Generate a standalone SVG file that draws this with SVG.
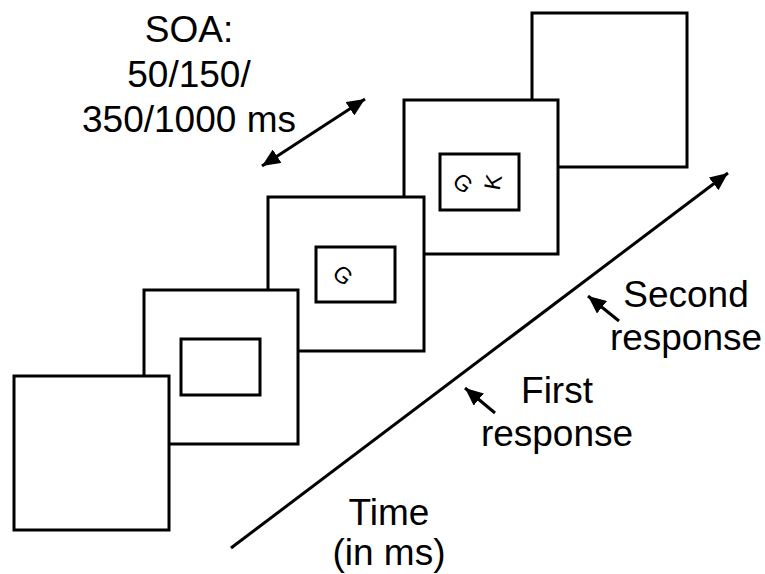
<svg xmlns="http://www.w3.org/2000/svg" width="765" height="574" viewBox="0 0 765 574">
<style>
.box{fill:#fff;stroke:#000;stroke-width:3}
.ln{fill:none;stroke:#000;stroke-width:3}
.t{font-family:"Liberation Sans",Arial,sans-serif;font-size:37px;fill:#000;text-anchor:middle}
.s{font-family:"Liberation Sans",Arial,sans-serif;font-size:23px;fill:#000;text-anchor:middle}
</style>
<defs>
<marker id="ah" markerUnits="userSpaceOnUse" markerWidth="20" markerHeight="16" refX="18" refY="8" orient="auto-start-reverse" viewBox="0 0 20 16">
<path d="M0,0 L18,8 L0,16 Z" fill="#000"/>
</marker>
</defs>
<rect width="765" height="574" fill="#fff"/>
<g id="screen5"><rect class="box" x="532" y="13" width="155" height="154"/></g>
<g id="screen4"><rect class="box" x="404" y="100" width="154" height="154"/>
<rect class="box" x="440" y="154" width="79" height="56"/>
<text class="s" transform="translate(463,183) rotate(40)" dy="8">G</text>
<text class="s" transform="translate(493,182) rotate(-80)" dy="8">K</text></g>
<g id="screen3"><rect class="box" x="268" y="197" width="156" height="154"/>
<rect class="box" x="316" y="247" width="79" height="55"/>
<text class="s" transform="translate(343,275) rotate(40)" dy="8">G</text></g>
<g id="screen2"><rect class="box" x="144" y="290" width="154" height="154"/>
<rect class="box" x="181" y="339" width="79" height="56"/></g>
<g id="screen1"><rect class="box" x="14" y="376" width="155" height="154"/></g>
<g id="connectors">
<line class="ln" x1="262" y1="166" x2="365" y2="99" marker-start="url(#ah)" marker-end="url(#ah)"/>
<line class="ln" x1="231" y1="548" x2="728" y2="173" marker-end="url(#ah)"/>
<line class="ln" x1="619" y1="321" x2="588" y2="296" marker-end="url(#ah)"/>
<line class="ln" x1="495" y1="413" x2="465" y2="388" marker-end="url(#ah)"/>
</g>
<g id="labels">
<text class="t" x="189" y="42">SOA:</text>
<text class="t" x="189" y="87">50/150/</text>
<text class="t" x="189" y="132">350/1000 ms</text>
<text class="t" x="686" y="307">Second</text>
<text class="t" x="686" y="350">response</text>
<text class="t" x="557" y="403">First</text>
<text class="t" x="557" y="446">response</text>
<text class="t" x="389" y="525">Time</text>
<text class="t" x="389" y="565">(in ms)</text>
</g>
</svg>
